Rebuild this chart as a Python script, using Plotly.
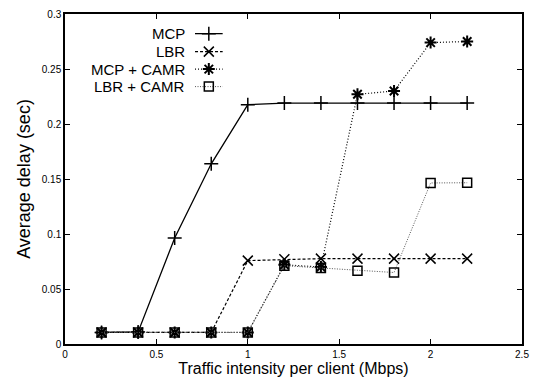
import plotly.graph_objects as go

x_vals = [0.2, 0.4, 0.6, 0.8, 1.0, 1.2, 1.4, 1.6, 1.8, 2.0, 2.2]
mcp = [0.0105, 0.011, 0.0963, 0.1638, 0.2176, 0.219, 0.219, 0.219, 0.219, 0.219, 0.219]
lbr = [0.0105, 0.0105, 0.0105, 0.0105, 0.0758, 0.077, 0.0776, 0.0776, 0.0776, 0.0776, 0.0776]
mcp_camr = [0.0105, 0.0105, 0.0105, 0.0105, 0.0105, 0.072, 0.0700, 0.227, 0.230, 0.274, 0.275]
lbr_camr = [0.0105, 0.0105, 0.0105, 0.0105, 0.0105, 0.0712, 0.069, 0.0667, 0.065, 0.1464, 0.1466]
series_names = ["MCP", "LBR", "MCP + CAMR", "LBR + CAMR"]
x_ticks = [0, 0.5, 1, 1.5, 2, 2.5]
x_tick_text = ["0", "0.5", "1", "1.5", "2", "2.5"]
y_ticks = [0, 0.05, 0.1, 0.15, 0.2, 0.25, 0.3]
y_tick_text = ["0", "0.05", "0.1", "0.15", "0.2", "0.25", "0.3"]

styles = [
    dict(line=dict(color="black", width=1.3, dash="solid"), symbol="cross-thin-open", color="black", size=10, mlw=1.5),
    dict(line=dict(color="black", width=1.2, dash="3px,2px"), symbol="x-thin-open", color="black", size=10, mlw=1.5),
    dict(line=dict(color="black", width=1.2, dash="1px,2px"), symbol="asterisk-open", color="black", size=10, mlw=2),
    dict(line=dict(color="#555555", width=1.0, dash="1px,1.5px"), symbol="square-open", color="black", size=9, mlw=1.5),
]
data = [mcp, lbr, mcp_camr, lbr_camr]

fig = go.Figure()
for name, ys, st in zip(series_names, data, styles):
    fig.add_trace(go.Scatter(
        x=x_vals, y=ys, mode="lines+markers", name=name,
        line=st["line"],
        marker=dict(symbol=st["symbol"], size=st["size"], color=st["color"],
                    line=dict(color="black", width=st["mlw"])),
        showlegend=False,
    ))

# custom legend (text left, sample right) on an overlay axis
leg_y = [0.9405, 0.886, 0.833, 0.78]
for name, ly, st in zip(series_names, leg_y, styles):
    fig.add_trace(go.Scatter(
        x=[0.2845, 0.3147, 0.345], y=[ly, ly, ly], xaxis="x2", yaxis="y2",
        mode="lines", line=st["line"], showlegend=False, hoverinfo="skip",
    ))
    fig.add_trace(go.Scatter(
        x=[0.3147], y=[ly], xaxis="x2", yaxis="y2", mode="markers",
        marker=dict(symbol=st["symbol"], size=st["size"], color=st["color"],
                    line=dict(color="black", width=st["mlw"])),
        showlegend=False, hoverinfo="skip",
    ))
    fig.add_annotation(x=0.268, y=ly, xref="x2", yref="y2", text=name,
                       showarrow=False, xanchor="right", yanchor="middle",
                       font=dict(size=15, color="black"))

axis_common = dict(showline=True, linecolor="black", linewidth=1.5, mirror="allticks",
                   ticks="inside", ticklen=5, tickcolor="black", showgrid=False,
                   zeroline=False, tickfont=dict(size=10, color="black"))

fig.update_layout(
    width=537, height=383,
    margin=dict(l=65, r=8, t=12, b=39),
    paper_bgcolor="white", plot_bgcolor="white",
    font=dict(family="Liberation Sans, Arial, sans-serif", color="black"),
    xaxis=dict(range=[0, 2.5], tickvals=x_ticks, ticktext=x_tick_text,
               title=dict(text="Traffic intensity per client (Mbps)", font=dict(size=16), standoff=2),
               **axis_common),
    yaxis=dict(range=[0, 0.3], tickvals=y_ticks, ticktext=y_tick_text,
               title=dict(text="Average delay (sec)", font=dict(size=18), standoff=6),
               **axis_common),
    xaxis2=dict(overlaying="x", range=[0, 1], visible=False, domain=[0, 1]),
    yaxis2=dict(overlaying="y", range=[0, 1], visible=False),
)

fig.write_html("out.html")
